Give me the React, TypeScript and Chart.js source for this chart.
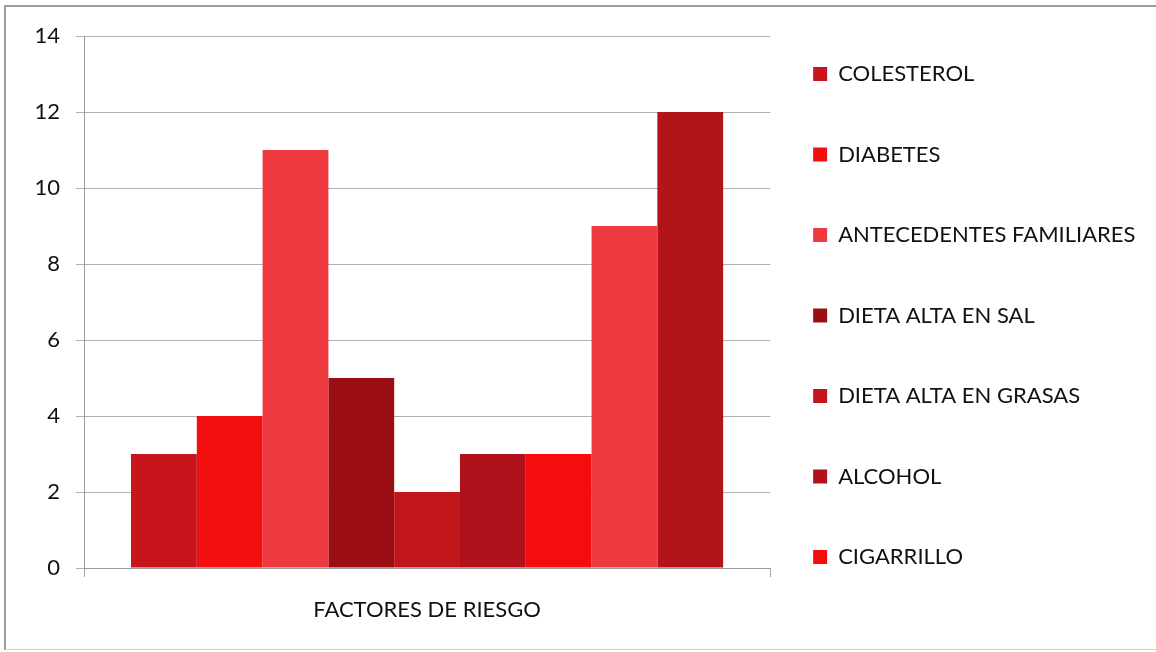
import React, { useEffect, useRef } from 'react';
import { Chart, registerables } from 'chart.js';

Chart.register(...registerables);

const categories = ['FACTORES DE RIESGO'];
const seriesNames = [
  'COLESTEROL',
  'DIABETES',
  'ANTECEDENTES FAMILIARES',
  'DIETA ALTA EN SAL',
  'DIETA ALTA EN GRASAS',
  'ALCOHOL',
  'CIGARRILLO',
  'Serie 8',
  'Serie 9',
];
const seriesValues = [3, 4, 11, 5, 2, 3, 3, 9, 12];
const seriesColors = [
  '#C8141B',
  '#F20F10',
  '#EE3A3E',
  '#9B0F14',
  '#C1161B',
  '#B0111A',
  '#F50C0C',
  '#EF3A3F',
  '#B2141A',
];
const yMin = 0;
const yMax = 14;
const yStep = 2;
const legendCount = 7;

const FONT = 'Lato, "Open Sans", sans-serif';
const FS = 22;

export default function App() {
  const canvasRef = useRef<HTMLCanvasElement | null>(null);

  useEffect(() => {
    const canvas = canvasRef.current;
    if (!canvas) return;
    const datasets = seriesNames.map((name, i) => ({
      label: name,
      data: [seriesValues[i]],
      backgroundColor: seriesColors[i],
      borderWidth: 0,
      categoryPercentage: 0.863,
      barPercentage: 1,
    }));
    const chart = new Chart(canvas, {
      type: 'bar',
      data: { labels: categories, datasets },
      options: {
        animation: false,
        responsive: false,
        devicePixelRatio: 1,
        layout: { padding: { top: 20, bottom: 8.6, left: 18.5, right: 10.5 } },
        plugins: {
          title: { display: true, text: '', padding: 0, font: { size: 16, lineHeight: 1 } },
          tooltip: { enabled: false },
          legend: {
            position: 'right',
            align: 'start',
            maxWidth: 600,
            labels: {
              boxWidth: 14,
              boxHeight: 14,
              padding: 43,
              color: '#111111',
              font: { family: FONT, size: FS, lineHeight: 37.5 / FS },
              generateLabels: (c: any) => {
                const items = Chart.defaults.plugins.legend.labels.generateLabels(c);
                return items.slice(0, legendCount).map((it: any) => ({ ...it, text: [it.text], lineWidth: 0 }));
              },
            },
          },
        },
        scales: {
          x: {
            grid: {
              display: true,
              drawOnChartArea: false,
              drawTicks: true,
              tickLength: 9,
              color: '#a8a8a8',
            },
            border: { display: true, color: '#9a9a9a', width: 1 },
            ticks: {
              padding: 20,
              color: '#111111',
              font: { family: FONT, size: FS },
            },
          },
          y: {
            min: yMin,
            max: yMax,
            ticks: {
              stepSize: yStep,
              padding: 16,
              color: '#111111',
              font: { family: FONT, size: FS },
            },
            grid: { color: '#b0b0b0', tickLength: 8 },
            border: { display: true, color: '#9a9a9a', width: 1 },
          },
        },
      },
    });
    return () => chart.destroy();
  }, []);

  return (
    <div style={{ position: 'fixed', left: 0, top: 0, width: 1156, height: 652, background: '#fff' }}>
      <canvas ref={canvasRef} width={1156} height={652} style={{ position: 'absolute', left: 0, top: 0, display: 'block' }} />
      <div
        style={{
          position: 'absolute',
          left: 4,
          top: 5,
          width: 1152,
          height: 642,
          borderTop: '2px solid #9c9c9c',
          borderLeft: '2px solid #9c9c9c',
          borderBottom: '1px solid #d0d0d0',
          pointerEvents: 'none',
        }}
      />
    </div>
  );
}
